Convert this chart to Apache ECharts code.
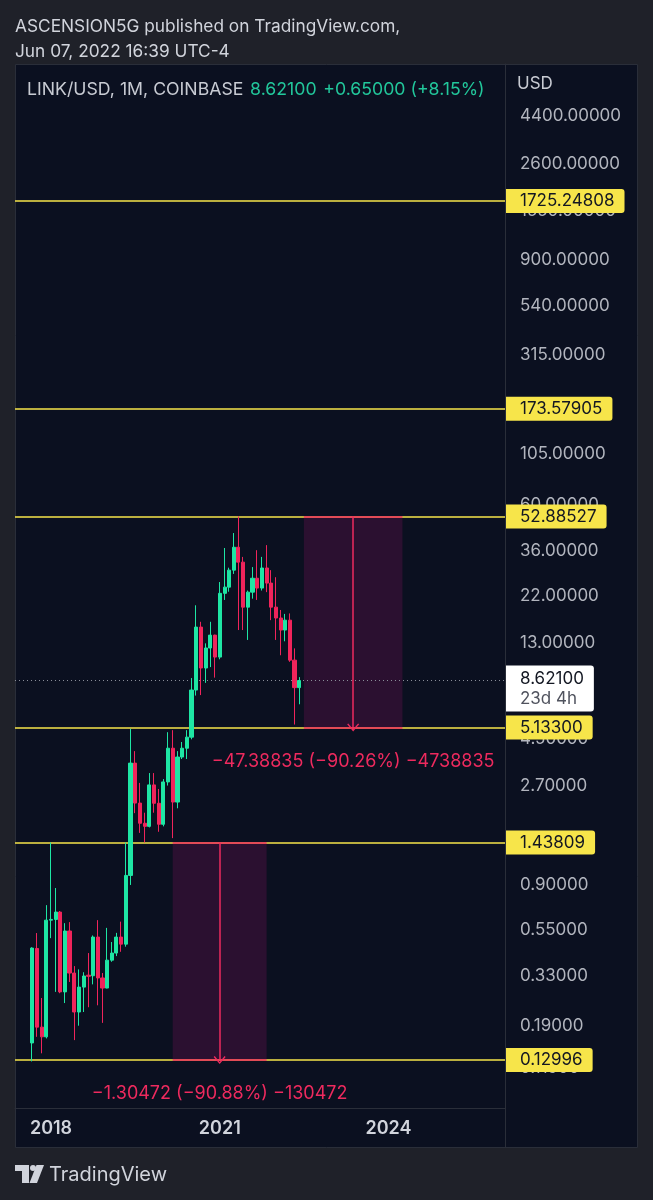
<!DOCTYPE html>
<html>
<head>
<meta charset="utf-8">
<script src="https://cdn.jsdelivr.net/npm/echarts@6/dist/echarts.min.js"></script>
<style>
html,body{margin:0;padding:0;background:#1f2129;}
#c{width:653px;height:1200px;}
</style>
</head>
<body>
<div id="c"></div>
<script>
// ---------- DATA ----------
const months = ['2017-09','2017-10','2017-11','2017-12',
 '2018-01','2018-02','2018-03','2018-04','2018-05','2018-06','2018-07','2018-08','2018-09','2018-10','2018-11','2018-12',
 '2019-01','2019-02','2019-03','2019-04','2019-05','2019-06','2019-07','2019-08','2019-09','2019-10','2019-11','2019-12',
 '2020-01','2020-02','2020-03','2020-04','2020-05','2020-06','2020-07','2020-08','2020-09','2020-10','2020-11','2020-12',
 '2021-01','2021-02','2021-03','2021-04','2021-05','2021-06','2021-07','2021-08','2021-09','2021-10','2021-11','2021-12',
 '2022-01','2022-02','2022-03','2022-04','2022-05','2022-06'];
const opens = [0.157,0.446,0.187,0.168,
 0.610,0.615,0.667,0.276,0.541,0.340,0.221,0.291,0.332,0.330,0.506,0.322,
 0.288,0.392,0.424,0.506,0.468,1.00,3.46,2.225,1.78,1.72,2.72,2.22,
 1.76,2.81,4.08,2.25,3.70,4.08,4.61,7.76,15.56,9.90,12.35,14.24,
 11.17,22.6,24.2,29.2,37.6,31.9,19.4,22.9,26.7,23.95,29.9,25.3,
 19.4,17.2,15.06,16.8,10.8,7.971];
const closes = [0.448,0.187,0.168,0.610,
 0.615,0.667,0.276,0.541,0.340,0.221,0.291,0.329,0.328,0.506,0.322,0.288,
 0.392,0.424,0.506,0.468,1.00,3.46,2.225,1.78,1.72,2.72,2.22,1.76,
 2.81,4.08,2.25,3.70,4.08,4.61,7.76,15.56,9.90,12.35,14.24,11.17,
 22.6,24.2,29.2,37.6,31.9,19.4,22.9,26.7,23.95,29.9,25.3,19.4,
 17.2,15.06,16.8,10.8,7.971,8.621];
const lows = [0.128,0.168,0.140,0.165,
 0.50,0.276,0.272,0.244,0.308,0.162,0.190,0.221,0.233,0.300,0.238,0.196,
 0.287,0.385,0.410,0.430,0.455,0.90,1.99,1.60,1.44,1.70,2.00,1.62,
 1.72,2.70,1.51,2.10,3.62,3.62,4.50,7.30,7.34,8.40,10.0,8.90,
 10.9,21.0,23.0,28.0,15.06,15.06,13.5,21.3,21.0,23.3,22.9,16.8,
 13.5,11.4,13.3,10.6,5.30,6.63];
const highs = [0.452,0.529,0.258,0.720,
 1.438,0.870,0.675,0.590,0.597,0.367,0.354,0.343,0.424,0.515,0.610,0.340,
 0.560,0.479,0.530,0.600,1.440,5.05,3.95,2.78,2.00,3.10,3.10,2.60,
 2.90,4.87,4.98,3.95,4.37,4.98,8.86,19.8,16.5,13.0,16.5,14.3,
 25.6,37.3,30.0,44.0,52.885,33.8,23.3,30.2,36.4,33.8,38.5,29.2,
 27.0,18.8,18.0,18.1,12.3,8.95];

const levelLines = [1725.24808, 173.57905, 52.88527, 5.133, 1.43809, 0.12996];
const priceTicks = [4400, 2600, 1550, 900, 540, 315, 180, 105, 60, 36, 22, 13, 7.8, 4.5, 2.7, 1.5, 0.9, 0.55, 0.33, 0.19, 0.119];
const yearTicks = ['2018-01-01', '2021-01-01', '2024-01-01'];
const lastPrice = 8.621;
const countdown = '23d 4h';
const measures = [
  {from: 52.88527, to: 5.133, start: '2022-07-01', end: '2024-04-01', text: '\u221247.38835 (\u221290.26%) \u22124738835'},
  {from: 1.43809, to: 0.12996, start: '2020-03-01', end: '2021-11-01', text: '\u22121.30472 (\u221290.88%) \u2212130472'}
];

// ---------- STYLE ----------
const FONT = 'Inter, Roboto, sans-serif';
const UP = '#1ee6a4', DOWN = '#f0245b';
const YEL = '#f7e54a', PINK = '#ee2a5e';

const t = s => Date.parse(s.length === 7 ? s + '-01T00:00:00Z' : s + 'T00:00:00Z');
const candles = months.map((m, i) => [t(m), opens[i], closes[i], lows[i], highs[i]]);

const chart = echarts.init(document.getElementById('c'), null, {renderer: 'canvas'});

const measureArea = measures.map(m => [{xAxis: t(m.start), yAxis: m.from}, {xAxis: t(m.end), yAxis: m.to}]);
const measureEdges = [];
measures.forEach(m => {
  measureEdges.push([{coord: [t(m.start), m.from]}, {coord: [t(m.end), m.from]}]);
  measureEdges.push([{coord: [t(m.start), m.to]}, {coord: [t(m.end), m.to]}]);
});
const measureArrows = measures.map(m => {
  const mid = (t(m.start) + t(m.end)) / 2;
  return [
    {coord: [mid, m.from], symbol: 'none'},
    {coord: [mid, m.to], symbol: 'path://M10,0 L20,11 L18.2,12.4 L10,3.2 L1.8,12.4 L0,11 Z', symbolSize: [12, 8],
     label: {show: true, position: 'end', distance: 25, formatter: m.text, color: PINK, fontSize: 18, fontFamily: FONT}}
  ];
});

chart.setOption({
  animation: false,
  backgroundColor: '#1f2129',
  grid: {left: 15, right: 148, top: 64, bottom: 92},
  xAxis: {
    type: 'value',
    min: t('2017-05-12'), max: t('2026-01-27'),
    axisLine: {show: true, lineStyle: {color: '#2a2e39', width: 1}},
    axisTick: {show: false},
    splitLine: {show: false},
    axisLabel: {
      customValues: yearTicks.map(t),
      formatter: v => String(new Date(v).getUTCFullYear()),
      color: '#d1d4dc', fontSize: 18, fontWeight: 600, fontFamily: FONT, margin: 12
    }
  },
  yAxis: {
    type: 'log', logBase: 10, position: 'right',
    min: 0.0765, max: 7849,
    axisLine: {show: true, lineStyle: {color: '#2a2e39', width: 1}},
    axisTick: {show: false},
    splitLine: {show: false},
    axisLabel: {
      customValues: priceTicks,
      formatter: v => Number(v).toFixed(5),
      color: '#b2b5be', fontSize: 17, fontFamily: FONT, margin: 15, align: 'left'
    }
  },
  series: [
    {
      type: 'line', data: [], z: 1, silent: true,
      markArea: {silent: true, itemStyle: {color: '#2b1030', borderWidth: 0}, data: measureArea}
    },
    {
      type: 'line', data: [], z: 3, silent: true,
      markLine: {
        silent: true, symbol: ['none', 'none'], precision: 5,
        lineStyle: {color: YEL, width: 1.5, type: 'solid'},
        label: {
          show: true, position: 'end', distance: 0,
          formatter: p => levelLines[p.dataIndex].toFixed(5),
          color: '#131722', fontSize: 17, fontFamily: FONT, lineHeight: 19,
          backgroundColor: YEL, padding: [3, 10, 2, 15], borderRadius: [0, 3, 3, 0]
        },
        data: levelLines.map(v => ({yAxis: v}))
      }
    },
    {
      type: 'line', data: [], z: 4, silent: true,
      markLine: {
        silent: true, symbol: ['none', 'none'], precision: 5,
        lineStyle: {color: PINK, width: 1.5, type: 'solid'},
        label: {show: false},
        data: measureEdges.concat(measureArrows)
      }
    },
    {
      type: 'line', data: [], z: 4, silent: true,
      markLine: {
        silent: true, symbol: ['none', 'none'], precision: 5,
        lineStyle: {color: '#8a8e99', width: 1, type: [1, 3]},
        label: {
          show: true, position: 'end', distance: 0, offset: [0, 8],
          formatter: () => '{a|' + lastPrice.toFixed(5) + '}\n{b|' + countdown + '}',
          backgroundColor: '#ffffff', padding: [3, 10, 3, 15], borderRadius: [0, 3, 3, 0],
          rich: {
            a: {color: '#131722', fontSize: 17, fontFamily: FONT, lineHeight: 20},
            b: {color: '#50535e', fontSize: 17, fontFamily: FONT, lineHeight: 20}
          }
        },
        data: [{yAxis: lastPrice}]
      }
    },
    {
      type: 'candlestick', z: 5,
      data: candles,
      barWidth: 3.6,
      itemStyle: {color: UP, color0: DOWN, borderColor: UP, borderColor0: DOWN, borderWidth: 1}
    }
  ],
  graphic: [
    {type: 'rect', z: -100, silent: true, shape: {x: 15.5, y: 64.5, width: 622, height: 1083}, style: {fill: '#0b1020', stroke: '#2a2e39', lineWidth: 1}},
    {type: 'line', z: 100, silent: true, shape: {x1: 505.5, y1: 64, x2: 505.5, y2: 1148}, style: {stroke: '#2a2e39', lineWidth: 1}},
    {type: 'text', silent: true, x: 15, y: 27, style: {text: 'ASCENSION5G published on TradingView.com,', fill: '#d1d4dc', font: '17.3px ' + FONT, verticalAlign: 'middle'}},
    {type: 'text', silent: true, x: 15, y: 52, style: {text: 'Jun 07, 2022 16:39 UTC-4', fill: '#d1d4dc', font: '17.3px ' + FONT, verticalAlign: 'middle'}},
    {type: 'text', silent: true, z: 100, x: 27, y: 90, style: {
      text: '{w|LINK/USD, 1M, COINBASE}  {g|8.62100}  {g|+0.65000 (+8.15%)}',
      verticalAlign: 'middle',
      rich: {w: {fill: '#c8cbd3', font: '17.7px ' + FONT}, g: {fill: '#22c79b', font: '17.7px ' + FONT}}
    }},
    {type: 'text', silent: true, z: 100, x: 517, y: 84, style: {text: 'USD', fill: '#c8cbd3', font: '17px ' + FONT, verticalAlign: 'middle'}},
    {type: 'polygon', silent: true, shape: {points: [[15,1165],[29,1165],[29,1183],[22,1183],[22,1171],[15,1171]]}, style: {fill: '#d1d4dc'}},
    {type: 'circle', silent: true, shape: {cx: 33, cy: 1168, r: 3}, style: {fill: '#d1d4dc'}},
    {type: 'polygon', silent: true, shape: {points: [[36.5,1165],[44,1165],[37,1183],[29.5,1183]]}, style: {fill: '#d1d4dc'}},
    {type: 'text', silent: true, x: 49, y: 1175, style: {text: 'TradingView', fill: '#d1d4dc', font: '20px ' + FONT, verticalAlign: 'middle'}}
  ]
});
</script>
</body>
</html>
